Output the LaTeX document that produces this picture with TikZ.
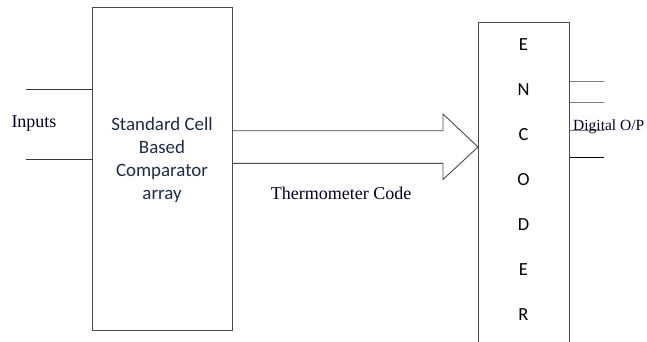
\documentclass[tikz,border=0pt]{standalone}
\usepackage{fontspec}
\setmainfont{Liberation Serif}
\newfontfamily\carlito{Carlito}
\definecolor{boxtxt}{HTML}{1C2B4A}
\definecolor{edge}{HTML}{4A4A4A}
\definecolor{wire}{HTML}{3A3A3A}
\definecolor{owire}{HTML}{808080}
\begin{document}
\begin{tikzpicture}[x=1pt,y=-1pt,
  blk/.style={draw=edge,line width=0.9pt,inner sep=0pt,anchor=north west},
  serif/.style={inner sep=0pt,font=\fontsize{18}{20}\selectfont,text=black!85!blue},
  cell/.style={inner sep=0pt,font=\carlito\fontsize{18.9}{23.3}\selectfont,text=boxtxt,align=center},
  letter/.style={inner sep=0pt,font=\carlito\fontsize{18.5}{23}\selectfont},
  inwire/.style={draw=wire,line width=0.9pt},
  outwire/.style={draw=owire,line width=0.9pt}]
\useasboundingbox (0,0) rectangle (647,342);
% comparator array box
\node[blk,minimum width=140,minimum height=323] (cmp) at (92,7) {};
\node[cell] (cmptxt) at (162,160) {Standard Cell\\Based\\Comparator\\array};
% inputs
\coordinate (in1) at (26,89);
\coordinate (in2) at (26,159);
\draw[inwire] (in1) -- (in1 -| cmp.west);
\draw[inwire] (in2) -- (in2 -| cmp.west);
\node[serif] (inputs) at (34,124) {Inputs};
% encoder box (continues below the picture)
\node[blk,minimum width=91,minimum height=340] (enc) at (478,22) {};
\foreach \l/\y [count=\i] in {E/45,N/90,C/135,O/180,D/225,E/270,R/315}
  \node[letter] (L\i) at (523.5,\y) {\l};
% thermometer code arrow
\coordinate (a1) at (232,130.7);
\coordinate (a2) at (443,130.7);
\coordinate (a3) at (443,114);
\coordinate (a4) at (478,147);
\coordinate (a5) at (443,179.5);
\coordinate (a6) at (443,163.3);
\coordinate (a7) at (232,163.3);
\draw[draw=edge,line width=0.9pt,line join=miter] (a1) -- (a2) -- (a3) -- (a4) -- (a5) -- (a6) -- (a7);
\node[serif] (therm) at (341,193) {Thermometer Code};
% digital outputs
\coordinate (o1) at (604,81);
\coordinate (o2) at (604,102);
\coordinate (o3) at (604,130);
\coordinate (o4) at (604,157);
\draw[outwire] (o1 -| enc.east) -- (o1);
\draw[outwire] (o2 -| enc.east) -- (o2);
\draw[outwire] (o3 -| enc.east) -- (o3);
\draw[inwire,draw=black] (o4 -| enc.east) -- (o4);
\node[inner sep=0pt,font=\fontsize{15.5}{17}\selectfont,anchor=west,text=black!85!blue] (dig) at (573,127) {Digital O/P};
\end{tikzpicture}
\end{document}
